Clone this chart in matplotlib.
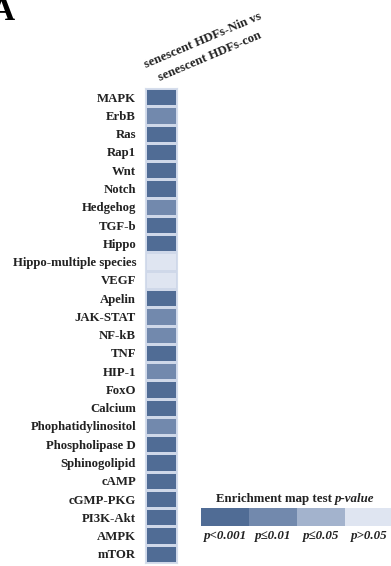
import matplotlib
matplotlib.use("Agg")
import matplotlib.pyplot as plt
from matplotlib.colors import ListedColormap, BoundaryNorm
import numpy as np

pathways = ["MAPK", "ErbB", "Ras", "Rap1", "Wnt", "Notch", "Hedgehog", "TGF-b",
            "Hippo", "Hippo-multiple species", "VEGF", "Apelin", "JAK-STAT", "NF-kB",
            "TNF", "HIP-1", "FoxO", "Calcium", "Phophatidylinositol", "Phospholipase D",
            "Sphinogolipid", "cAMP", "cGMP-PKG", "PI3K-Akt", "AMPK", "mTOR"]
# significance level index: 0 p<0.001, 1 p<=0.01, 2 p<=0.05, 3 p>0.05
levels = [0, 1, 0, 0, 0, 0, 1, 0, 0, 3, 3, 0, 1, 1, 0, 1, 0, 0, 1, 0, 0, 0, 0, 0, 0, 0]
column_label = "senescent HDFs-Nin vs\nsenescent HDFs-con"
legend_labels = ["p<0.001", "p\u22640.01", "p\u22640.05", "p>0.05"]
legend_title = "Enrichment map test "
colors = ["#506c95", "#7289ad", "#a3b3cd", "#dfe5f1"]

plt.rcParams['font.family'] = ['Liberation Serif', 'DejaVu Serif']

W, H = 391, 566
fig = plt.figure(figsize=(W / 100, H / 100), dpi=100)

def fx(px):
    return px / W

def fy(py):
    return 1 - py / H

cmap = ListedColormap(colors)
norm = BoundaryNorm(np.arange(-0.5, len(colors) + 0.5, 1), cmap.N)

# heatmap column
top, bot = 88, 563
ax = fig.add_axes([fx(144.5), fy(bot), fx(176.5) - fx(144.5), fy(top) - fy(bot)])
data = np.array(levels).reshape(-1, 1)
ax.pcolormesh(data, cmap=cmap, norm=norm, edgecolors="#cfd8e9", linewidth=0.8)
ax.set_ylim(len(pathways), 0)
ax.set_xlim(0, 1)
ax.set_yticks(np.arange(len(pathways)) + 0.5)
ax.set_yticklabels(pathways, fontsize=9.2, fontweight="bold", color="#222222")
ax.tick_params(axis="y", length=0, pad=6)
ax.set_xticks([])
for s in ax.spines.values():
    s.set_color("#d5ddec")
    s.set_linewidth(0.8)

# rotated column label
fig.text(fx(206), fy(49), column_label, rotation=23, ha="center", va="center",
         multialignment="center", fontsize=9.3, fontweight="bold", color="#222222",
         linespacing=1.6, rotation_mode="anchor")

# panel letter
fig.text(fx(-9), fy(20), "A", fontsize=24, fontweight="bold", ha="left",
         va="baseline")

# legend bar
lax = fig.add_axes([fx(201), fy(526), fx(393) - fx(201), fy(508) - fy(526)])
lax.pcolormesh(np.arange(len(colors)).reshape(1, -1), cmap=cmap, norm=norm,
               edgecolors="none")
lax.set_xlim(0, len(colors))
lax.set_xticks(np.arange(len(colors)) + 0.5)
lax.set_xticklabels(legend_labels, fontsize=9.4, fontweight="bold", style="italic",
                    color="#222222")
lax.tick_params(axis="x", length=0, pad=3)
lax.set_yticks([])
for s in lax.spines.values():
    s.set_visible(False)

t1 = fig.text(fx(216), fy(502), legend_title, fontsize=9.3, fontweight="bold",
              ha="left", va="baseline", color="#222222")
fig.canvas.draw()
plt.annotate("p-value", xy=(1, 0), xycoords=t1, xytext=(0, 0),
             textcoords="offset points", ha="left", va="bottom",
             fontsize=9.3, fontweight="bold", style="italic", color="#222222",
             annotation_clip=False)

fig.savefig("out.png", dpi=100)
